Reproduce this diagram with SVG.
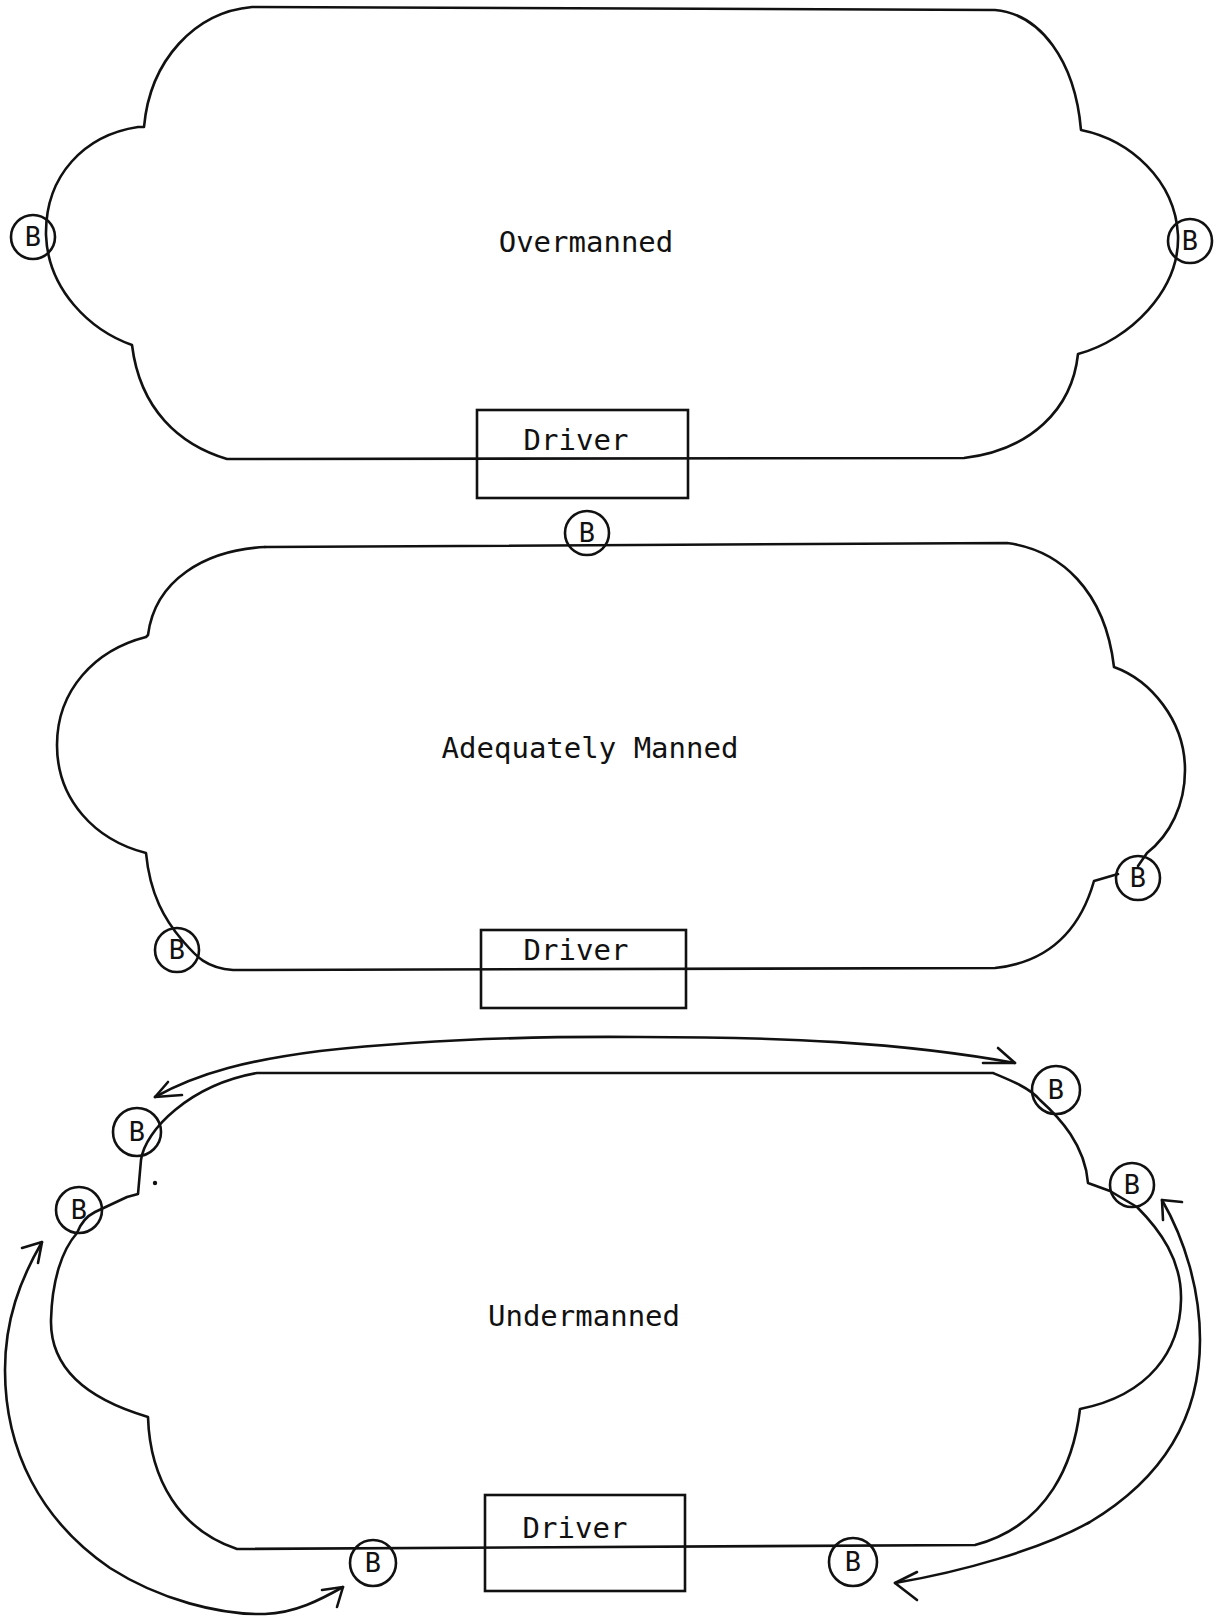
<svg xmlns="http://www.w3.org/2000/svg" width="1217" height="1618" viewBox="0 0 1217 1618">
<style>
.ln{fill:none;stroke:#111;stroke-width:2.6;stroke-linecap:round;stroke-linejoin:round}
.bx{fill:none;stroke:#111;stroke-width:2.6}
.bc{fill:none;stroke:#111;stroke-width:2.6}
.t{font-family:"DejaVu Sans Mono","Liberation Mono",monospace;font-size:29px;fill:#111;text-anchor:middle}
.b{font-family:"DejaVu Sans Mono","Liberation Mono",monospace;font-size:27px;fill:#111;text-anchor:middle}
.ar{fill:none;stroke:#111;stroke-width:2.6;stroke-linecap:round;stroke-linejoin:round}
</style>
<rect width="1217" height="1618" fill="#fff"/>

<g id="overmanned">
<path class="ln" d="M252,7 L995,10 C1040,14 1075,60 1081,130 C1130,140 1175,180 1178,235 C1180,290 1130,340 1078,354 C1072,410 1030,450 964,458 L227,459 C180,445 140,410 132,345 C90,330 48,290 46,235 C45,175 85,135 138,127 L144,127 C150,60 195,12 252,7 Z"/>
<text class="t" x="586" y="252">Overmanned</text>
</g>
<g id="driver1">
<rect class="bx" x="477" y="410" width="211" height="88"/>
<text class="t" x="576" y="450">Driver</text>
</g>
<g id="b1-left"><circle class="bc" cx="33" cy="237" r="22"/><text class="b" x="33" y="246">B</text></g>
<g id="b1-right"><circle class="bc" cx="1190" cy="241" r="22"/><text class="b" x="1190" y="250">B</text></g>

<g id="adequately-manned">
<path class="ln" d="M265,547 L1007,543 C1060,550 1105,590 1114,667 C1150,680 1185,720 1185,770 C1185,805 1170,835 1147,853 L1138,866"/>
<path class="ln" d="M1118,874 L1094,881 C1080,930 1050,962 995,968 L233,970 C205,968 195,955 182,940 C165,920 150,895 146,853 C95,840 57,800 57,745 C57,690 95,650 146,637 L148,635 C155,580 205,550 265,547"/>
<text class="t" x="590" y="758">Adequately Manned</text>
</g>
<g id="driver2">
<rect class="bx" x="481" y="930" width="205" height="78"/>
<text class="t" x="576" y="960">Driver</text>
</g>
<g id="b2-top"><circle class="bc" cx="587" cy="533" r="22"/><text class="b" x="587" y="542">B</text></g>
<g id="b2-left"><circle class="bc" cx="177" cy="950" r="22"/><text class="b" x="177" y="959">B</text></g>
<g id="b2-right"><circle class="bc" cx="1138" cy="878" r="22"/><text class="b" x="1138" y="887">B</text></g>

<g id="undermanned">
<path class="ln" d="M257,1073 L993,1073 C1010,1080 1030,1088 1040,1100 C1060,1118 1085,1145 1088,1183 L1110,1191 L1137,1207 C1160,1230 1182,1260 1181,1300 C1180,1350 1150,1395 1080,1409 C1074,1460 1050,1525 975,1545 L237,1549 C180,1530 150,1480 148,1417 C90,1400 50,1370 51,1320 C52,1280 62,1250 77,1233 C80,1225 85,1217 95,1212 L127,1197 L138,1194 L141,1160 C145,1130 190,1085 257,1073 Z"/>
<circle cx="155" cy="1183" r="2.2" fill="#111"/>
<text class="t" x="584" y="1326">Undermanned</text>
</g>
<g id="driver3">
<rect class="bx" x="485" y="1495" width="200" height="96"/>
<text class="t" x="575" y="1538">Driver</text>
</g>
<g id="b3-upper-left"><circle class="bc" cx="137" cy="1132" r="24"/><text class="b" x="137" y="1141">B</text></g>
<g id="b3-left"><circle class="bc" cx="79" cy="1210" r="23"/><text class="b" x="79" y="1219">B</text></g>
<g id="b3-top-right"><circle class="bc" cx="1056" cy="1090" r="24"/><text class="b" x="1056" y="1099">B</text></g>
<g id="b3-right"><circle class="bc" cx="1132" cy="1185" r="22"/><text class="b" x="1132" y="1194">B</text></g>
<g id="b3-bottom-left"><circle class="bc" cx="373" cy="1563" r="23"/><text class="b" x="373" y="1572">B</text></g>
<g id="b3-bottom-right"><circle class="bc" cx="853" cy="1562" r="24"/><text class="b" x="853" y="1571">B</text></g>

<g id="connectors">
<path class="ar" d="M155,1097 C200,1072 250,1060 320,1051 C420,1040 520,1036 640,1037 C780,1037 900,1042 1015,1063"/>
<path class="ar" d="M168,1082 L155,1097 L182,1095"/>
<path class="ar" d="M998,1048 L1015,1063 L983,1063"/>
<path class="ar" d="M42,1242 C20,1280 5,1320 5,1370 C5,1450 40,1520 110,1568 C160,1600 220,1615 265,1614 C295,1613 320,1600 343,1587"/>
<path class="ar" d="M22,1248 L42,1242 L38,1263"/>
<path class="ar" d="M322,1590 L343,1587 L337,1607"/>
<path class="ar" d="M1162,1200 C1185,1240 1200,1290 1200,1340 C1200,1420 1160,1480 1090,1522 C1040,1550 960,1572 895,1583"/>
<path class="ar" d="M1182,1202 L1162,1200 L1163,1220"/>
<path class="ar" d="M917,1572 L895,1583 L917,1600"/>
</g>
</svg>
